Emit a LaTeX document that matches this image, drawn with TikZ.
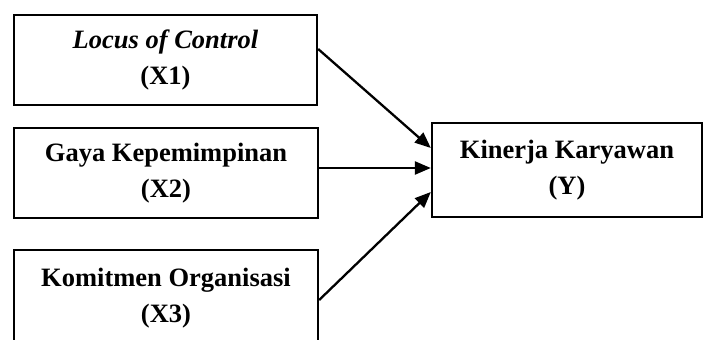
\documentclass[tikz,border=0pt]{standalone}
\usepackage{fontspec}
\setmainfont{Liberation Serif}
\usetikzlibrary{arrows.meta}
\begin{document}
\begin{tikzpicture}[x=1pt,y=-1pt,
  box/.style={draw=black, line width=2.3pt, rectangle, inner sep=0pt, align=center,
    font=\fontsize{26.5}{36}\selectfont\bfseries},
  arr/.style={line width=2.3pt, -{Triangle[length=16pt,width=13pt]}}]
\useasboundingbox (0,0) rectangle (707,340);
\clip (0,0) rectangle (707,340);
\fill[white] (0,0) rectangle (707,340);
\node[box, minimum width=303pt, minimum height=90pt] (x1) at (165.5,60) {\textit{Locus of Control}\\(X1)};
\node[box, minimum width=304pt, minimum height=90pt] (x2) at (166,173) {Gaya Kepemimpinan\\(X2)};
\node[box, minimum width=304pt, minimum height=96pt] (x3) at (166,298) {Komitmen Organisasi\\(X3)};
\node[box, minimum width=270pt, minimum height=94pt] (y) at (567,170) {Kinerja Karyawan\\(Y)};
\coordinate (t1) at ([yshift=22pt]y.west);
\coordinate (t2) at ([yshift=2pt]y.west);
\coordinate (t3) at ([yshift=-22pt]y.west);
\draw[arr] ([yshift=11pt]x1.east) -- (t1);
\draw[arr] (x2.east |- t2) -- (t2);
\draw[arr] ([yshift=-2pt]x3.east) -- (t3);
\end{tikzpicture}
\end{document}
